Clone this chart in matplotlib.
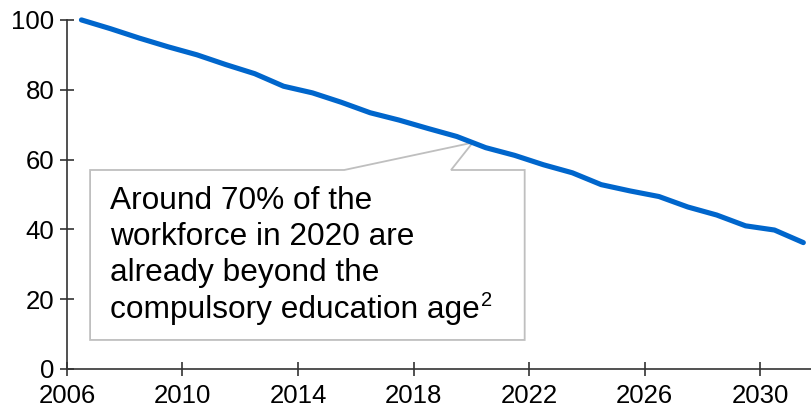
import matplotlib
matplotlib.use('Agg')
import matplotlib.pyplot as plt
from matplotlib.patches import Polygon
import numpy as np

# Share of workforce (index, 2006 = 100)
years = [2006.5, 2007.5, 2008.5, 2009.5, 2010.5, 2011.5, 2012.5, 2013.5,
         2014.5, 2015.5, 2016.5, 2017.5, 2018.5, 2019.5, 2020.5, 2021.5,
         2022.5, 2023.5, 2024.5, 2025.5, 2026.5, 2027.5, 2028.5, 2029.5,
         2030.5, 2031.5]
values = [100.0, 97.5, 94.8, 92.3, 90.0, 87.2, 84.6, 81.0,
          79.1, 76.4, 73.4, 71.3, 68.9, 66.6, 63.4, 61.2,
          58.5, 56.2, 52.8, 51.0, 49.4, 46.4, 44.1, 41.0,
          39.8, 36.2]
xticks = [2006, 2010, 2014, 2018, 2022, 2026, 2030]
yticks = [0, 20, 40, 60, 80, 100]
note = "Around 70% of the\nworkforce in 2020 are\nalready beyond the\ncompulsory education age"
footnote = "2"

plt.rcParams['font.family'] = ['Liberation Sans', 'DejaVu Sans']

fig = plt.figure(figsize=(8.12, 4.15), dpi=100)
ax = fig.add_axes([0.0825, 0.111, 0.9175, 0.841])

ax.plot(years, values, color='#0066cc', linewidth=3.7, solid_capstyle='round',
        clip_on=False, zorder=3)

# callout box pointing at the 2020 value
tip_x = 2020.05
tip_y = np.interp(tip_x, years, values)
box = Polygon([(2006.8, 8.3), (2006.8, 57.0), (2015.6, 57.0), (tip_x, tip_y),
               (2019.3, 57.0), (2021.85, 57.0), (2021.85, 8.3)],
              closed=True, facecolor='white', edgecolor='#bfbfbf', linewidth=1.3,
              zorder=2)
ax.add_patch(box)
txt = ax.text(2007.5, 52.4, note, fontsize=22.8, va='top', ha='left',
              linespacing=1.27, zorder=4)
# superscript footnote marker after the last (longest) line
ax.annotate(footnote, xy=(1, 0), xycoords=txt, xytext=(0.5, 24.5),
            textcoords='offset points', fontsize=14.5, va='top', ha='left',
            zorder=4)

ax.set_xlim(2006, 2031.8)
ax.set_ylim(0, 100)
ax.set_xticks(xticks)
ax.set_yticks(yticks)
for s in ['top', 'right']:
    ax.spines[s].set_visible(False)
for s in ['left', 'bottom']:
    ax.spines[s].set_linewidth(1.2)
    ax.spines[s].set_color('#333333')
ax.tick_params(axis='both', direction='inout', length=10, width=1.2,
               color='#333333', labelsize=18.5)
ax.tick_params(axis='x', pad=6)
ax.tick_params(axis='y', pad=4)

fig.savefig('out.png', dpi=100)
